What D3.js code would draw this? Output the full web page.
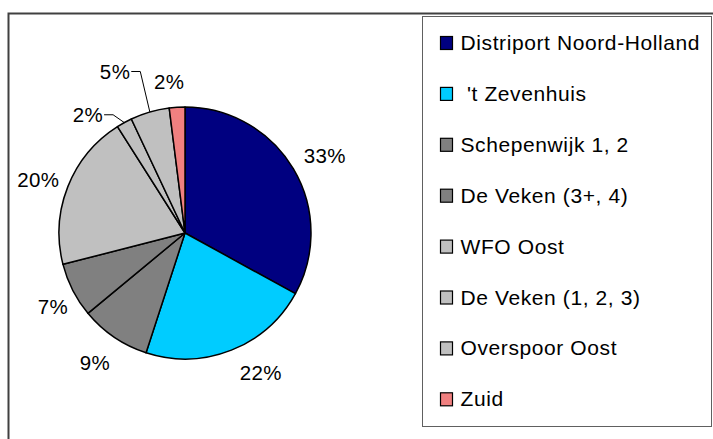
<!DOCTYPE html>
<html><head><meta charset="utf-8">
<script src="https://cdn.jsdelivr.net/npm/d3@7"></script>
<style>
body{margin:0;background:#fff}
svg{display:block}
text{font-family:"Liberation Sans",Arial,sans-serif;fill:#000;white-space:pre}
</style></head><body>
<svg id="c" width="713" height="439"></svg>
<script>
const categories = ["Distriport Noord-Holland", " 't Zevenhuis", "Schepenwijk 1, 2", "De Veken (3+, 4)", "WFO Oost", "De Veken (1, 2, 3)", "Overspoor Oost", "Zuid"];
const values = [33, 22, 9, 7, 20, 2, 5, 2];
const labels = ["33%", "22%", "9%", "7%", "20%", "2%", "5%", "2%"];
const colors = ["#000080", "#00CCFF", "#808080", "#808080", "#C0C0C0", "#C0C0C0", "#C0C0C0", "#F08080"];

const svg = d3.select("#c");
// outer chart frame
svg.append("rect").attr("x", 8.5).attr("y", 13.5).attr("width", 800).attr("height", 600)
  .attr("fill", "none").attr("stroke", "#404040").attr("stroke-width", 2);

const cx = 185, cy = 233, r = 126;
const pie = d3.pie().sort(null).value(d => d);
const arcs = pie(values);
const arc = d3.arc().innerRadius(0).outerRadius(r);
const g = svg.append("g").attr("transform", `translate(${cx},${cy})`);
g.selectAll("path").data(arcs).join("path")
  .attr("d", arc).attr("fill", (d, i) => colors[i])
  .attr("stroke", "#000").attr("stroke-width", 1.5).attr("stroke-linejoin", "round");

// label layout (radius per label; thin slices pushed out with leaders)
const labelRadius = [160, 159, 158, 151, 156, 153, 176, 152];
const angleShift = [0.026, -0.12, 0.01, -0.035, -0.03, -0.185, -0.126, -0.042];
const leader = [false, false, false, false, false, true, true, false];
const fs = 20.5;
arcs.forEach((d, i) => {
  const a = (d.startAngle + d.endAngle) / 2 + angleShift[i];
  const lx = Math.sin(a) * labelRadius[i], ly = -Math.cos(a) * labelRadius[i];
  const t = g.append("text").attr("x", lx).attr("y", ly + fs * 0.36)
    .attr("text-anchor", "middle").style("font-size", fs + "px")
    .style("letter-spacing", "0.4px").text(labels[i]);
  if (leader[i]) {
    const w = t.node().getComputedTextLength();
    const ma = (d.startAngle + d.endAngle) / 2;
    const px = Math.sin(ma) * r, py = -Math.cos(ma) * r;
    const sx = lx + w / 2 + 1, bx = lx + w / 2 + 10;
    g.append("polyline").attr("points", `${sx},${ly} ${bx},${ly} ${px},${py}`)
      .attr("fill", "none").attr("stroke", "#000").attr("stroke-width", 1);
  }
});

// legend
svg.append("rect").attr("x", 422.5).attr("y", 16.5).attr("width", 289).attr("height", 410)
  .attr("fill", "#fff").attr("stroke", "#606060").attr("stroke-width", 1);
const ly0 = 43, lstep = 50.9;
const lg = svg.append("g");
categories.forEach((c, i) => {
  const y = ly0 + i * lstep;
  lg.append("rect").attr("x", 440.5).attr("y", y - 6.5).attr("width", 12).attr("height", 13)
    .attr("fill", colors[i]).attr("stroke", "#000").attr("stroke-width", 1.2);
  lg.append("text").attr("x", 460.5).attr("y", y + 7).style("font-size", "21px")
    .style("letter-spacing", "0.6px").text(c);
});
</script>
</body></html>
